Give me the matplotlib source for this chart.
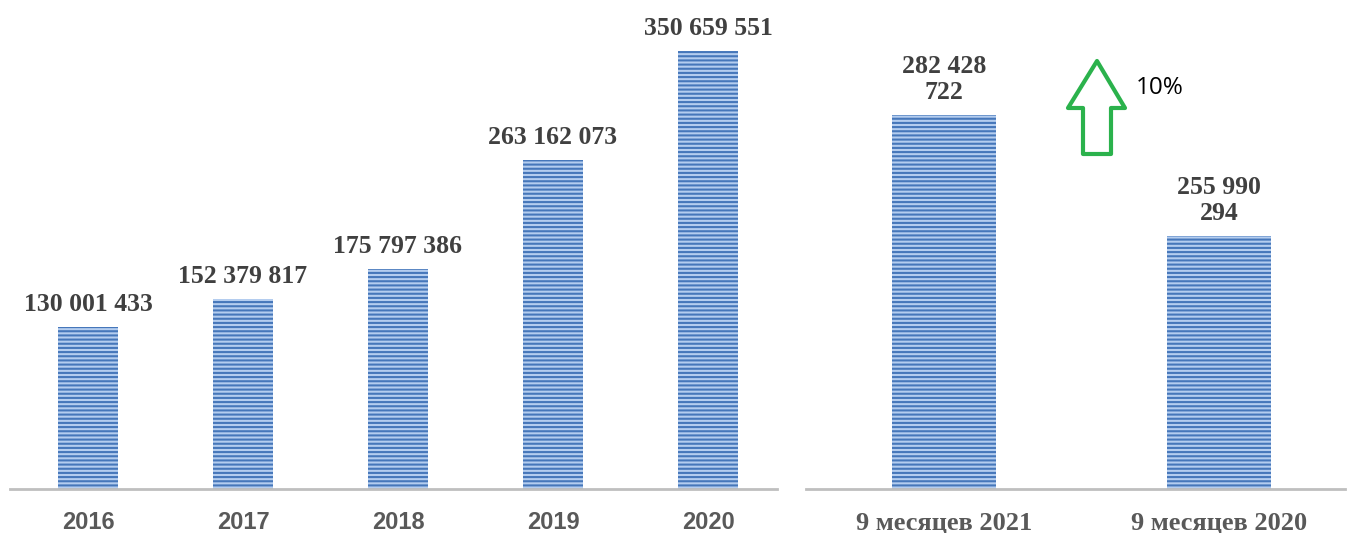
import matplotlib
matplotlib.use("Agg")
from matplotlib import pyplot as plt
from matplotlib.patches import Polygon

years = ["2016", "2017", "2018", "2019", "2020"]
year_values = [130001433, 152379817, 175797386, 263162073, 350659551]
year_labels = ["130 001 433", "152 379 817", "175 797 386", "263 162 073", "350 659 551"]

period_names = ["9 месяцев 2021", "9 месяцев 2020"]
period_values = [282428722, 255990294]
period_labels = ["282 428\n722", "255 990\n294"]

growth_text = "10%"

plt.rcParams["hatch.linewidth"] = 1.5

W, H = 1350, 533
fig = plt.figure(figsize=(W / 100, H / 100), dpi=100)

face = "#b4cdef"
stripe = "#4677ba"
label_color = "#404040"
axis_color = "#bfbfbf"


def style_axis(ax):
    for s in ["left", "right", "top"]:
        ax.spines[s].set_visible(False)
    ax.spines["bottom"].set_color(axis_color)
    ax.spines["bottom"].set_linewidth(2)
    ax.set_yticks([])
    ax.tick_params(axis="x", length=0, pad=16)


# left panel: yearly values
ax1 = fig.add_axes([10 / W, 44 / H, 767 / W, 489 / H])
x1 = list(range(len(years)))
ax1.bar(x1, year_values, width=0.387, color=face, edgecolor=stripe,
        linewidth=0, hatch="----")
ax1.set_xlim(-0.503, 4.445)
ax1.set_ylim(0, 391.5e6)
ax1.set_xticks(x1)
ax1.set_xticklabels(years, fontfamily="Liberation Sans", fontweight="bold",
                    fontsize=17, color="#595959")
style_axis(ax1)
for xi, v, lab in zip(x1, year_values, year_labels):
    ax1.annotate(lab, (xi, v), xytext=(0, 11.5), textcoords="offset points",
                 ha="center", va="baseline", fontfamily="Liberation Serif",
                 fontweight="bold", fontsize=18.5, color=label_color)

# right panel: nine months comparison
ax2 = fig.add_axes([806 / W, 44 / H, 539 / W, 489 / H])
x2 = list(range(len(period_names)))
ax2.bar(x2, period_values, width=0.378, color=face, edgecolor=stripe,
        linewidth=0, hatch="----")
ax2.set_xlim(-0.502, 1.458)
ax2.set_ylim(200.7e6, 307.5e6)
ax2.set_xticks(x2)
ax2.set_xticklabels(period_names, fontfamily="Liberation Serif", fontweight="bold",
                    fontsize=19, color="#595959")
style_axis(ax2)
for xi, v, lab in zip(x2, period_values, period_labels):
    ax2.annotate(lab, (xi, v), xytext=(0, 11.5), textcoords="offset points",
                 ha="center", va="baseline", fontfamily="Liberation Serif",
                 fontweight="bold", fontsize=18.5, color=label_color,
                 linespacing=1.15)

# green growth arrow
pts = [(1097, 61), (1125, 108), (1111, 108), (1111, 154), (1083, 154),
       (1083, 108), (1068, 108)]
arrow = Polygon([(px / W, 1 - py / H) for px, py in pts], closed=True,
                transform=fig.transFigure, facecolor="white",
                edgecolor="#2bb24c", linewidth=3, joinstyle="round")
fig.patches.append(arrow)
fig.text(1136 / W, 1 - 88 / H, growth_text, fontfamily="Open Sans",
         fontsize=17.5, color="black", ha="left", va="center")

fig.savefig("out.png", dpi=100)
